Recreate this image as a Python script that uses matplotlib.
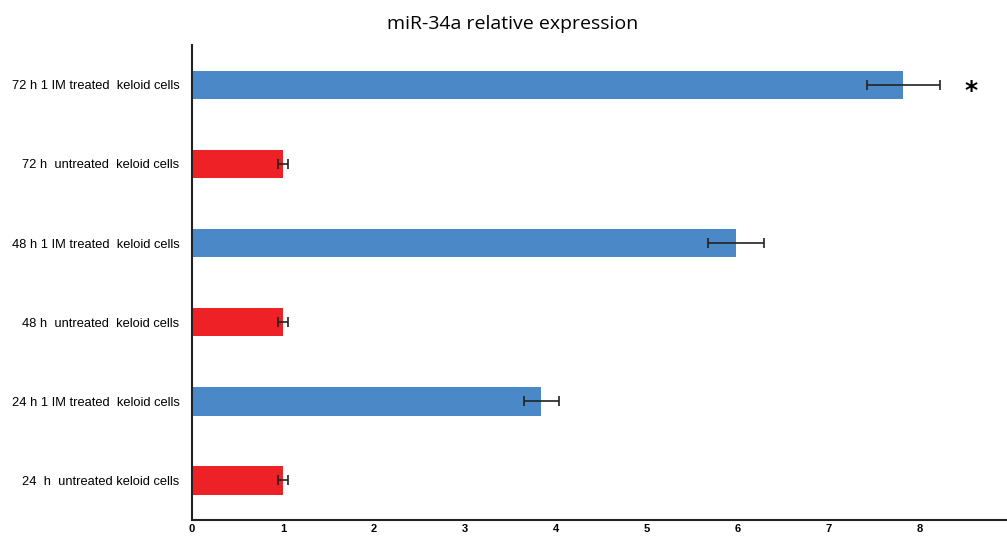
import matplotlib
matplotlib.use("Agg")
import matplotlib.pyplot as plt

plt.rcParams['font.family'] = ['Liberation Sans', 'DejaVu Sans']

# data, bottom to top
categories = ["24  h  untreated keloid cells",
              "24 h 1 IM treated  keloid cells",
              "48 h  untreated  keloid cells",
              "48 h 1 IM treated  keloid cells",
              "72 h  untreated  keloid cells",
              "72 h 1 IM treated  keloid cells"]
values = [1.0, 3.84, 1.0, 5.98, 1.0, 7.82]
errors = [0.06, 0.19, 0.06, 0.31, 0.06, 0.40]
colors = ["#EE2226", "#4A88C8", "#EE2226", "#4A88C8", "#EE2226", "#4A88C8"]
xticks = [0, 1, 2, 3, 4, 5, 6, 7, 8]

fig = plt.figure(figsize=(10.07, 5.38), dpi=100)
ax = fig.add_axes([0.1907, 0.0335, 0.8093, 0.8825])

ypos = list(range(len(categories)))
ax.barh(ypos, values, height=0.36, color=colors,
        xerr=errors, error_kw=dict(ecolor="#222222", elinewidth=1.2, capsize=3.5, capthick=1.2))

# significance marker
ax.text(values[-1] + errors[-1] + 0.35, ypos[-1] - 0.08, "*", fontsize=18, fontweight="bold",
        ha="center", va="center", family="DejaVu Sans")

ax.set_xlim(0, 8.96)
ax.set_ylim(-0.5, 5.5)
ax.set_yticks(ypos)
ax.set_yticklabels(categories, fontsize=9.3)
ax.set_xticks(xticks)
ax.set_xticklabels([str(t) for t in xticks], fontsize=8, fontweight="bold")
ax.tick_params(axis='y', length=0, pad=9)
ax.tick_params(axis='x', length=0, pad=3)

for s in ["top", "right"]:
    ax.spines[s].set_visible(False)
for s in ["left", "bottom"]:
    ax.spines[s].set_linewidth(1.5)
    ax.spines[s].set_color("#222222")

fig.text(0.509, 0.955, "miR-34a relative expression", ha="center", va="center", fontsize=14,
         family=["Open Sans", "DejaVu Sans"])

fig.savefig("out.png", dpi=100)
